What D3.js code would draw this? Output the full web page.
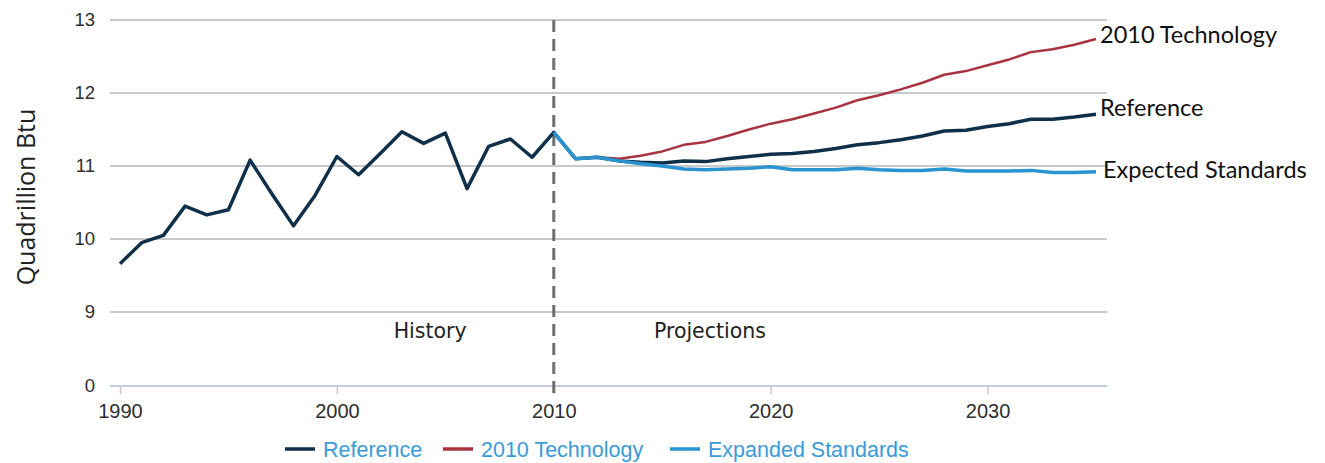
<!DOCTYPE html>
<html>
<head>
<meta charset="utf-8">
<script src="https://cdn.jsdelivr.net/npm/d3@7"></script>
<style>
  body { margin: 0; background: #fff; }
  svg { display: block; }
</style>
</head>
<body>
<svg id="chart" width="1325" height="463"></svg>
<script>
// years 1990..2035
const years = d3.range(1990, 2036);

const referenceValues = [
  9.66, 9.95, 10.05, 10.45, 10.33, 10.40, 11.08, 10.62, 10.18, 10.60,
  11.13, 10.88, 11.17, 11.47, 11.31, 11.45, 10.69, 11.27, 11.37, 11.12,
  11.46, 11.10, 11.12, 11.07, 11.05, 11.04, 11.07, 11.06, 11.10, 11.13,
  11.16, 11.17, 11.20, 11.24, 11.29, 11.32, 11.36, 11.41, 11.48, 11.49,
  11.54, 11.58, 11.64, 11.64, 11.67, 11.71
];

// projections from 2010
const techYears = d3.range(2010, 2036);
const techValues = [
  11.46, 11.10, 11.12, 11.10, 11.14, 11.20, 11.29, 11.33, 11.41, 11.50,
  11.58, 11.64, 11.72, 11.80, 11.90, 11.97, 12.05, 12.14, 12.25, 12.30,
  12.38, 12.46, 12.56, 12.60, 12.66, 12.74
];
const standardsValues = [
  11.46, 11.10, 11.12, 11.07, 11.03, 11.00, 10.96, 10.95, 10.96, 10.97,
  10.99, 10.95, 10.95, 10.95, 10.97, 10.95, 10.94, 10.94, 10.96, 10.93,
  10.93, 10.93, 10.94, 10.91, 10.91, 10.92
];

const yTicks = [0, 9, 10, 11, 12, 13];
const xTicks = [1990, 2000, 2010, 2020, 2030];

const seriesNames = ["Reference", "2010 Technology", "Expanded Standards"];
const endLabels = ["Reference", "2010 Technology", "Expected Standards"];
const colors = ["#10304a", "#a83441", "#2a94d0"];

const svg = d3.select("#chart");

const x = d3.scaleLinear().domain([1990, 2035]).range([120, 1096]);
// broken axis: 0 sits one step below 9
const y = d3.scaleLinear().domain([0, 9, 13]).range([386, 312, 20]);

// gridlines
svg.append("g")
  .selectAll("line")
  .data(yTicks.filter(d => d > 0))
  .enter().append("line")
  .attr("x1", 110).attr("x2", 1107)
  .attr("y1", d => y(d)).attr("y2", d => y(d))
  .attr("stroke", "#c9c9c9")
  .attr("stroke-width", 2);

// baseline
svg.append("line")
  .attr("x1", 110).attr("x2", 1107)
  .attr("y1", y(0)).attr("y2", y(0))
  .attr("stroke", "#c3cddc")
  .attr("stroke-width", 2);

// y tick labels
svg.append("g")
  .attr("font-family", "Liberation Sans, Arial, sans-serif")
  .attr("font-size", 18.5)
  .attr("fill", "#2e2e2e")
  .attr("text-anchor", "end")
  .selectAll("text")
  .data(yTicks)
  .enter().append("text")
  .attr("x", 95)
  .attr("y", d => y(d))
  .attr("dy", "0.35em")
  .text(d => d);

// x axis ticks
const xAxis = svg.append("g")
  .attr("transform", "translate(0," + (y(0) + 1) + ")")
  .call(d3.axisBottom(x).tickValues(xTicks).tickFormat(d3.format("d")).tickSize(7).tickSizeOuter(0));
xAxis.select(".domain").remove();
xAxis.selectAll(".tick line").attr("stroke", "#c8c8c8").attr("stroke-width", 1.5);
xAxis.selectAll(".tick text")
  .attr("font-family", "Liberation Sans, Arial, sans-serif")
  .attr("font-size", 20)
  .attr("fill", "#2e2e2e")
  .attr("y", 17)
  .attr("dy", "0.71em");

// y title
svg.append("text")
  .attr("transform", "translate(35,197) rotate(-90)")
  .attr("text-anchor", "middle")
  .attr("font-family", "Open Sans, sans-serif")
  .attr("font-size", 25)
  .attr("fill", "#222")
  .text("Quadrillion Btu");

// history / projections divider
svg.append("line")
  .attr("x1", x(2010)).attr("x2", x(2010))
  .attr("y1", y(13)).attr("y2", y(0) + 10)
  .attr("stroke", "#6e6e6e")
  .attr("stroke-width", 3)
  .attr("stroke-dasharray", "12,7");

svg.append("g")
  .attr("font-family", "DejaVu Sans, sans-serif")
  .attr("font-size", 20.5)
  .attr("fill", "#222")
  .attr("text-anchor", "middle")
  .selectAll("text")
  .data([["History", 2004.3], ["Projections", 2017.2]])
  .enter().append("text")
  .attr("x", d => x(d[1]))
  .attr("y", 338)
  .text(d => d[0]);

// lines
const line = d3.line()
  .x(d => x(d[0]))
  .y(d => y(d[1]));

const series = [
  { name: seriesNames[1], color: colors[1], width: 2.5, pts: d3.zip(techYears, techValues), label: endLabels[1], ly: 35 },
  { name: seriesNames[0], color: colors[0], width: 3.5, pts: d3.zip(years, referenceValues), label: endLabels[0], ly: 108 },
  { name: seriesNames[2], color: colors[2], width: 3.5, pts: d3.zip(techYears, standardsValues), label: endLabels[2], ly: 170 }
];

svg.append("g")
  .selectAll("path")
  .data(series)
  .enter().append("path")
  .attr("d", d => line(d.pts))
  .attr("fill", "none")
  .attr("stroke", d => d.color)
  .attr("stroke-width", d => d.width)
  .attr("stroke-linejoin", "round");

// end labels
svg.append("g")
  .attr("font-family", "Lato, sans-serif")
  .attr("font-size", 23.5)
  .attr("fill", "#111")
  .selectAll("text")
  .data(series)
  .enter().append("text")
  .attr("x", (d, i) => x(2035) + (i === 2 ? 7 : 4))
  .attr("y", d => d.ly)
  .attr("dy", "0.35em")
  .text(d => d.label);

// legend
const legendItems = [
  { name: seriesNames[0], color: colors[0], x: 285 },
  { name: seriesNames[1], color: colors[1], x: 443 },
  { name: seriesNames[2], color: colors[2], x: 670 }
];
const legend = svg.append("g")
  .selectAll("g")
  .data(legendItems)
  .enter().append("g")
  .attr("transform", d => "translate(" + d.x + ",449)");
legend.append("line")
  .attr("x1", 0).attr("x2", 30)
  .attr("stroke", d => d.color)
  .attr("stroke-width", 3.5);
legend.append("text")
  .attr("x", 38)
  .attr("dy", "0.35em")
  .attr("font-family", "Liberation Sans, Arial, sans-serif")
  .attr("font-size", 21.5)
  .attr("fill", "#3a9bd8")
  .text(d => d.name);
</script>
</body>
</html>
